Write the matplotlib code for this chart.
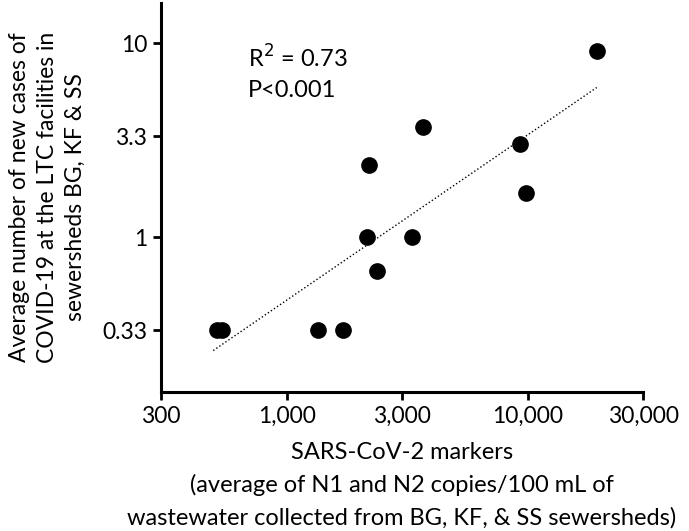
import numpy as np
import matplotlib.pyplot as plt

plt.rcParams['font.family'] = ['Lato', 'DejaVu Sans']

#-------- data --------#
markers = [511, 536, 1348, 1712, 2188, 3676, 2140, 3290, 2355, 9260, 9810, 19380]  # copies/100 mL
cases = [0.33, 0.33, 0.33, 0.33, 2.35, 3.7, 1.0, 1.0, 0.67, 3.02, 1.68, 9.13]
fit_x = [494, 19270]  # regression line ends
fit_y = [0.26, 5.9]

xticks = [300, 1000, 3000, 10000, 30000]
xtick_labels = ['300', '1,000', '3,000', '10,000', '30,000']
yticks = [0.33, 1, 3.3, 10]
ytick_labels = ['0.33', '1', '3.3', '10']

#-------- plot --------#
fig = plt.figure(figsize=(6.89, 5.31), dpi=100)
ax = fig.add_axes([0.2337, 0.2618, 0.6996, 0.7326])

ax.plot(fit_x, fit_y, color='black', ls=':', lw=1)
ax.plot(markers, cases, 'o', color='black', ms=11, mec='black')

ax.set_xscale('log')
ax.set_yscale('log')
ax.set_xlim(300, 30000)
ax.set_ylim(0.159, 16.1)

ax.set_xticks(xticks)
ax.set_xticklabels(xtick_labels)
ax.set_yticks(yticks)
ax.set_yticklabels(ytick_labels)
ax.minorticks_off()
ax.tick_params(axis='both', which='major', labelsize=16.5, length=6, width=2, pad=4)

for side in ['top', 'right']:
    ax.spines[side].set_visible(False)
for side in ['left', 'bottom']:
    ax.spines[side].set_linewidth(2.2)

ax.set_xlabel('SARS-CoV-2 markers\n(average of N1 and N2 copies/100 mL of\n'
              'wastewater collected from BG, KF, & SS sewersheds)',
              fontsize=17, linespacing=1.6, labelpad=11)
ax.set_ylabel('Average number of new cases of\nCOVID-19 at the LTC facilities in\n'
              'sewersheds BG, KF & SS', fontsize=16.5, linespacing=1.4, labelpad=12)

ax.text(0.18, 0.859, r'R$^2$ = 0.73', transform=ax.transAxes, fontsize=17, va='center')
ax.text(0.18, 0.776, 'P<0.001', transform=ax.transAxes, fontsize=17, va='center')

fig.savefig('out.png', dpi=100)
